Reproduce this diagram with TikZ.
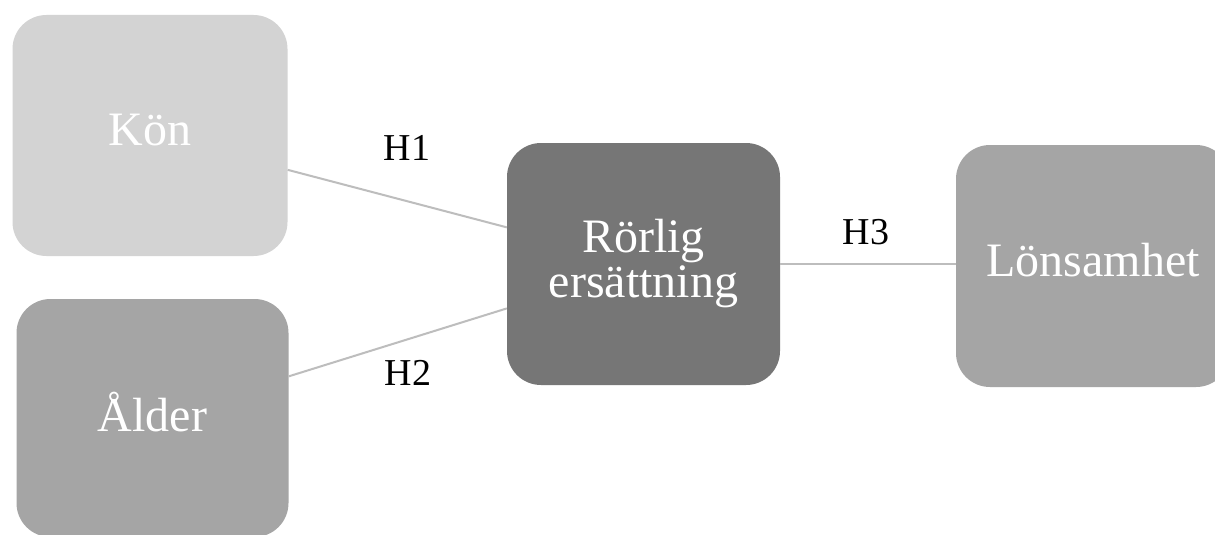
\documentclass[tikz,border=0pt]{standalone}
\usepackage{fontspec}
\setmainfont{Liberation Serif}
\definecolor{cLight}{HTML}{D3D3D3}
\definecolor{cMid}{HTML}{A5A5A5}
\definecolor{cDark}{HTML}{767676}
\definecolor{cLine}{HTML}{BDBDBD}
\tikzset{
  box/.style={rectangle, rounded corners=34pt, draw=none, text=white, align=center,
    font=\fontsize{48}{45}\selectfont, inner sep=0pt, text depth=12pt},
  link/.style={draw=cLine, line width=2pt},
  hlabel/.style={font=\fontsize{38}{40}\selectfont, text=black, inner sep=0pt}
}
\begin{document}
\begin{tikzpicture}[x=1pt,y=-1pt]
\useasboundingbox (0,0) rectangle (1215,535);
\fill[white] (0,0) rectangle (1215,535);
\begin{scope}
\clip (0,0) rectangle (1215,535);
\node[box, fill=cLight, minimum width=275pt, minimum height=241pt] (kon) at (150,135.5) {Kön};
\node[box, fill=cMid, minimum width=272pt, minimum height=238pt] (alder) at (152.5,418) {Ålder};
\node[box, fill=cDark, minimum width=273pt, minimum height=242pt] (ror) at (643.5,264) {Rörlig\\ersättning};
\node[box, fill=cMid, minimum width=274pt, minimum height=242pt] (lon) at (1093,266) {Lönsamhet};
\end{scope}
\draw[link] (kon.-14) -- (ror.165);
\draw[link] (alder.17) -- (ror.-162.5);
\draw[link] (ror.east) -- (lon.west |- ror.east);
\node[hlabel] (h1) at (407,148) {H1};
\node[hlabel] (h2) at (408,373) {H2};
\node[hlabel] (h3) at (866,232) {H3};
\end{tikzpicture}
\end{document}
